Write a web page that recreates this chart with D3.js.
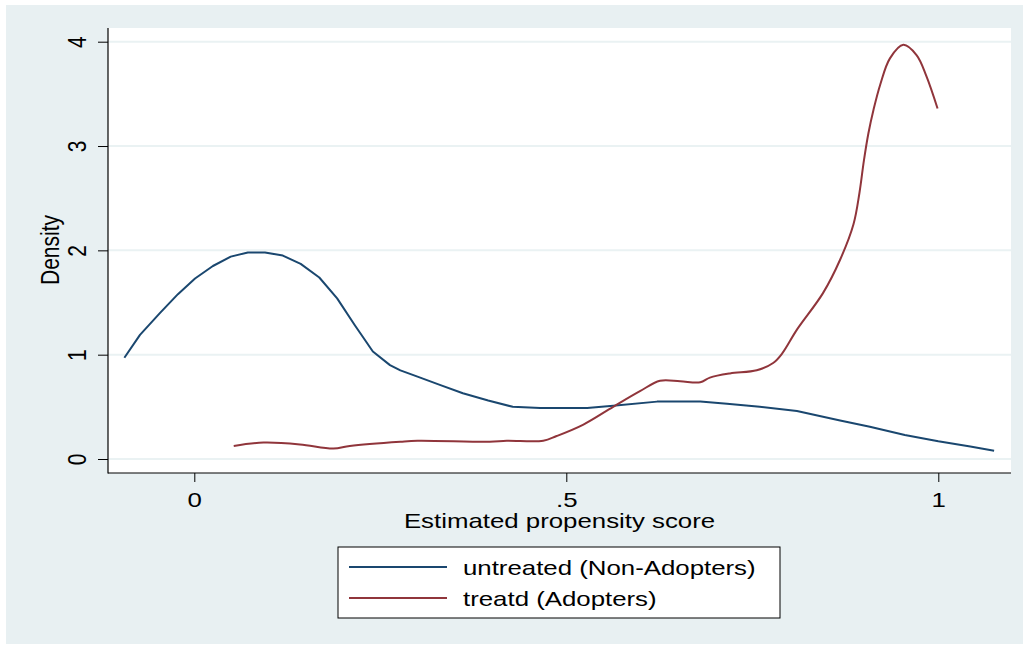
<!DOCTYPE html>
<html>
	<head>
		<script type="text/javascript" src="https://d3js.org/d3.v7.min.js"></script>
		<style>
			body { margin: 0; background: #ffffff; }
			text { font-family: "Liberation Sans", Arial, sans-serif; fill: #000000; }
		</style>
	</head>
	<body>
		<svg width="1023" height="645"></svg>
		<script type="text/javascript">
		// kernel density, untreated group
		var untreatedX = [-0.094, -0.073, -0.046, -0.022, 0.001, 0.025, 0.049, 0.072, 0.095, 0.119, 0.143, 0.168, 0.192, 0.216, 0.240, 0.263, 0.277, 0.300, 0.330, 0.361, 0.395, 0.428, 0.465, 0.528, 0.563, 0.622, 0.680, 0.716, 0.760, 0.810, 0.868, 0.908, 0.955, 1.000, 1.043, 1.075];
		var untreatedY = [0.97, 1.19, 1.40, 1.58, 1.73, 1.85, 1.94, 1.98, 1.98, 1.95, 1.87, 1.74, 1.54, 1.28, 1.03, 0.90, 0.85, 0.79, 0.71, 0.63, 0.56, 0.50, 0.49, 0.49, 0.51, 0.55, 0.55, 0.53, 0.50, 0.46, 0.37, 0.31, 0.23, 0.17, 0.12, 0.08];

		// kernel density, treated group
		var treatedX = [0.053, 0.093, 0.142, 0.187, 0.209, 0.277, 0.300, 0.397, 0.420, 0.469, 0.487, 0.523, 0.563, 0.599, 0.626, 0.653, 0.680, 0.693, 0.720, 0.756, 0.778, 0.790, 0.810, 0.845, 0.868, 0.886, 0.894, 0.900, 0.906, 0.913, 0.922, 0.935, 0.953, 0.971, 0.984, 0.999];
		var treatedY = [0.125, 0.157, 0.140, 0.100, 0.125, 0.166, 0.175, 0.166, 0.175, 0.175, 0.22, 0.33, 0.50, 0.65, 0.75, 0.745, 0.735, 0.78, 0.82, 0.85, 0.92, 1.01, 1.24, 1.59, 1.91, 2.25, 2.55, 2.86, 3.12, 3.35, 3.59, 3.84, 3.97, 3.87, 3.67, 3.36];

		var xTicks = [0, 0.5, 1], xTickLabels = ["0", ".5", "1"];
		var yTicks = [0, 1, 2, 3, 4], yTickLabels = ["0", "1", "2", "3", "4"];
		var seriesNames = ["untreated (Non-Adopters)", "treatd (Adopters)"];
		var seriesColors = ["#1a476f", "#90353b"];

		var SX = 1.23, FS = 21; // text looks horizontally stretched in the original

		var svg = d3.select("svg");
		var plot = {left: 108, right: 1011, top: 28, bottom: 473};

		var x = d3.scaleLinear().domain([0, 1]).range([194.3, 938.3]);
		var y = d3.scaleLinear().domain([0, 4]).range([459, 41.7]);

		/** backgrounds **/
		svg.append("rect").attr("x", 6).attr("y", 5).attr("width", 1017).attr("height", 639).attr("fill", "#e8f0f2");
		svg.append("rect").attr("x", plot.left).attr("y", plot.top)
			.attr("width", plot.right - plot.left).attr("height", plot.bottom - plot.top).attr("fill", "#ffffff");

		/** gridlines **/
		svg.selectAll(".grid").data(yTicks).enter().append("line")
			.attr("class", "grid")
			.attr("x1", plot.left).attr("x2", plot.right)
			.attr("y1", function(d) { return y(d); }).attr("y2", function(d) { return y(d); })
			.attr("stroke", "#eaf2f3").attr("stroke-width", 2);

		/** axes **/
		var yaxis = d3.axisLeft(y).tickValues(yTicks).tickSize(10).tickSizeOuter(0)
			.tickFormat(function(d, i) { return yTickLabels[i]; });
		var xaxis = d3.axisBottom(x).tickValues(xTicks).tickSize(9).tickSizeOuter(0)
			.tickFormat(function(d, i) { return xTickLabels[i]; });

		var gy = svg.append("g").attr("transform", "translate(" + plot.left + ",0)").call(yaxis);
		gy.select(".domain").remove();
		gy.selectAll("line").attr("stroke", "#000").attr("stroke-width", 1);
		gy.selectAll("text")
			.attr("x", null).attr("y", null).attr("dy", null)
			.attr("text-anchor", "middle")
			.attr("font-size", FS)
			.style("font-family", "Liberation Sans, Arial, sans-serif")
			.attr("transform", "translate(-22,0) scale(" + SX + ",1) rotate(-90)");

		var gx = svg.append("g").attr("transform", "translate(0," + plot.bottom + ")").call(xaxis);
		gx.select(".domain").remove();
		gx.selectAll("line").attr("stroke", "#000").attr("stroke-width", 1);
		gx.selectAll("text")
			.attr("x", null).attr("y", null).attr("dy", null)
			.attr("text-anchor", "middle")
			.attr("font-size", FS)
			.style("font-family", "Liberation Sans, Arial, sans-serif")
			.attr("transform", "translate(0,33.5) scale(" + SX + ",1)");

		svg.append("line").attr("x1", plot.left).attr("x2", plot.left).attr("y1", plot.top).attr("y2", plot.bottom + 0.5)
			.attr("stroke", "#000").attr("stroke-width", 1.2);
		svg.append("line").attr("x1", plot.left).attr("x2", plot.right).attr("y1", plot.bottom).attr("y2", plot.bottom)
			.attr("stroke", "#000").attr("stroke-width", 1.2);

		/** axis titles **/
		svg.append("text").attr("text-anchor", "middle").attr("font-size", FS)
			.attr("transform", "translate(559.5,528) scale(" + SX + ",1)")
			.text("Estimated propensity score");
		svg.append("text").attr("text-anchor", "middle").attr("font-size", FS)
			.attr("transform", "translate(59,250) scale(" + SX + ",1) rotate(-90)")
			.text("Density");

		/** density lines **/
		var series = [d3.zip(untreatedX, untreatedY), d3.zip(treatedX, treatedY)];
		var curves = [d3.curveLinear, d3.curveCatmullRom.alpha(0.5)];
		svg.selectAll(".dens").data(series).enter().append("path")
			.attr("class", "dens")
			.attr("d", function(d, i) {
				return d3.line()
					.x(function(p) { return x(p[0]); })
					.y(function(p) { return y(p[1]); })
					.curve(curves[i])(d);
			})
			.attr("fill", "none")
			.attr("stroke", function(d, i) { return seriesColors[i]; })
			.attr("stroke-width", 2)
			.attr("stroke-linejoin", "round");

		/** legend **/
		var legend = svg.append("g");
		legend.append("rect").attr("x", 338).attr("y", 547).attr("width", 442).attr("height", 71)
			.attr("fill", "#ffffff").attr("stroke", "#000").attr("stroke-width", 1);
		var rows = legend.selectAll(".row").data(seriesNames).enter().append("g")
			.attr("class", "row")
			.attr("transform", function(d, i) { return "translate(0," + (567 + i * 31) + ")"; });
		rows.append("line").attr("x1", 349).attr("x2", 447).attr("y1", 0).attr("y2", 0)
			.attr("stroke", function(d, i) { return seriesColors[i]; }).attr("stroke-width", 2);
		rows.append("text").attr("font-size", FS)
			.attr("transform", "translate(463,8) scale(" + SX + ",1)")
			.text(function(d) { return d; });
		</script>
	</body>
</html>
